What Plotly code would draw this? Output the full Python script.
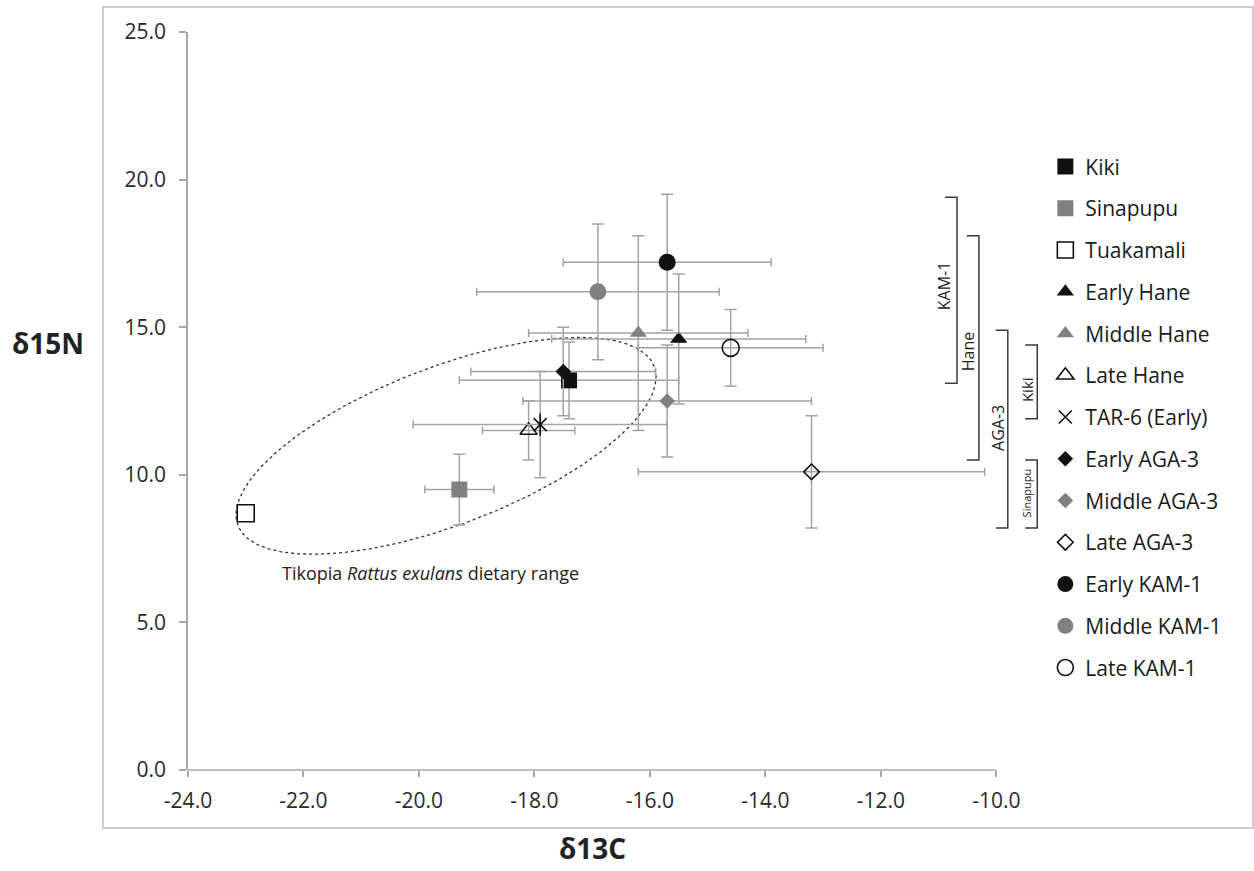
import numpy as np
import plotly.graph_objects as go

# ---------------- data ----------------
names = ["Kiki", "Sinapupu", "Tuakamali", "Early Hane", "Middle Hane", "Late Hane",
         "TAR-6 (Early)", "Early AGA-3", "Middle AGA-3", "Late AGA-3",
         "Early KAM-1", "Middle KAM-1", "Late KAM-1"]
d13c = [-17.4, -19.3, -23.0, -15.5, -16.2, -18.1, -17.9, -17.5, -15.7, -13.2, -15.7, -16.9, -14.6]
d15n = [13.2, 9.5, 8.7, 14.6, 14.8, 11.5, 11.7, 13.5, 12.5, 10.1, 17.2, 16.2, 14.3]
err_c = [1.9, 0.6, 0.0, 2.2, 1.9, 0.8, 2.2, 1.6, 2.5, 3.0, 1.8, 2.1, 1.6]
err_n = [1.3, 1.2, 0.0, 2.2, 3.3, 1.0, 1.8, 1.5, 1.9, 1.9, 2.3, 2.3, 1.3]

x_ticks = [-24, -22, -20, -18, -16, -14, -12, -10]
x_tick_labels = ["-24.0", "-22.0", "-20.0", "-18.0", "-16.0", "-14.0", "-12.0", "-10.0"]
y_ticks = [0, 5, 10, 15, 20, 25]
y_tick_labels = ["0.0", "5.0", "10.0", "15.0", "20.0", "25.0"]

# range brackets (site groups) : label, x of bracket, low, high
bracket_labels = ["KAM-1", "Hane", "AGA-3", "Kiki", "Sinapupu"]
bracket_x = [-10.68, -10.30, -9.80, -9.29, -9.29]
bracket_lo = [13.1, 10.5, 8.2, 11.9, 8.2]
bracket_hi = [19.4, 18.1, 14.9, 14.4, 10.5]
bracket_label_x = [-10.90, -10.50, -9.98, -9.47, -9.47]
bracket_label_y = [16.4, 14.2, 11.6, 12.9, 9.4]
bracket_label_size = [16, 16, 16, 15, 11]

# Tikopia dietary range ellipse (center and conjugate half-axes, data units)
ell_center = (-19.53, 10.98)
ell_u = (3.605, 2.692)
ell_v = (-0.4875, 2.497)

# ---------------- styles ----------------
BLACK = "#111111"
GRAY = "#808080"
ERR = "#a3a3a3"
AXIS = "#a6a6a6"
FONT = "Open Sans"

styles = {
    "Kiki": ("square", BLACK, 16),
    "Sinapupu": ("square", GRAY, 16),
    "Tuakamali": ("square-open", BLACK, 17),
    "Early Hane": ("triangle-up", BLACK, 15),
    "Middle Hane": ("triangle-up", GRAY, 15),
    "Late Hane": ("triangle-up-open", BLACK, 15),
    "TAR-6 (Early)": ("x-thin-open", BLACK, 13),
    "Early AGA-3": ("diamond", BLACK, 12),
    "Middle AGA-3": ("diamond", GRAY, 12),
    "Late AGA-3": ("diamond-open", BLACK, 12),
    "Early KAM-1": ("circle", BLACK, 17),
    "Middle KAM-1": ("circle", GRAY, 17),
    "Late KAM-1": ("circle-open", BLACK, 17),
}

fig = go.Figure()

# ellipse
t = np.linspace(0, 2 * np.pi, 400)
ex = ell_center[0] + ell_u[0] * np.cos(t) + ell_v[0] * np.sin(t)
ey = ell_center[1] + ell_u[1] * np.cos(t) + ell_v[1] * np.sin(t)
fig.add_trace(go.Scatter(x=ex, y=ey, mode="lines", showlegend=False, hoverinfo="skip",
                         line=dict(color="#333333", width=1.3, dash="dot")))

for i, nm in enumerate(names):
    sym, col, size = styles[nm]
    has_err = err_c[i] > 0 or err_n[i] > 0
    open_sym = sym.endswith("-open")
    fig.add_trace(go.Scatter(
        x=[d13c[i]], y=[d15n[i]], mode="markers", name=nm,
        legendgroup=nm,
        marker=dict(symbol=sym, size=size, color=col,
                    line=dict(color=col, width=1.6 if open_sym else 0)),
        error_x=dict(type="data", array=[err_c[i]], color=ERR, thickness=1.5, width=4, visible=has_err),
        error_y=dict(type="data", array=[err_n[i]], color=ERR, thickness=1.5, width=6, visible=has_err),
    ))
    if nm == "TAR-6 (Early)":
        fig.add_trace(go.Scatter(
            x=[d13c[i]], y=[d15n[i]], mode="markers", showlegend=False, legendgroup=nm,
            marker=dict(symbol="line-ns-open", size=16, color=col, line=dict(color=col, width=1.6)),
        ))

# frame & x axis line & brackets
shapes = []
shapes.append(dict(type="rect", xref="paper", yref="paper", x0=-0.0982, x1=1.2298, y0=-0.0786, y1=1.034,
                   line=dict(color="#bdbdbd", width=1.5), fillcolor="rgba(0,0,0,0)", layer="below"))
shapes.append(dict(type="line", xref="x", yref="paper", x0=x_ticks[0], x1=x_ticks[-1], y0=0, y1=0,
                   line=dict(color=AXIS, width=1.5)))
arm = 0.21
for bx, lo, hi in zip(bracket_x, bracket_lo, bracket_hi):
    shapes.append(dict(type="path", xref="x", yref="y",
                       path=f"M {bx - arm},{hi} L {bx},{hi} L {bx},{lo} L {bx - arm},{lo}",
                       line=dict(color="#3a3a3a", width=1.5)))

annotations = []
for lab, lx, ly, ls in zip(bracket_labels, bracket_label_x, bracket_label_y, bracket_label_size):
    annotations.append(dict(x=lx, y=ly, xref="x", yref="y", text=lab, showarrow=False,
                            xanchor="center", yanchor="middle",
                            textangle=-90, font=dict(family=FONT, size=ls, color="#222222")))
annotations.append(dict(x=-22.41, y=6.67, xref="x", yref="y", xanchor="left", yanchor="middle",
                        text="Tikopia <i>Rattus exulans</i> dietary range", showarrow=False,
                        font=dict(family=FONT, size=18, color="#222222")))
annotations.append(dict(x=-0.1617, y=14.45, xref="paper", yref="y", text="<b>δ15N</b>", showarrow=False,
                        xanchor="center", yanchor="middle",
                        font=dict(family=FONT, size=28, color="#222222")))
annotations.append(dict(x=-17.0, y=-0.1057, xref="x", yref="paper", text="<b>δ13C</b>", showarrow=False,
                        xanchor="center", yanchor="middle",
                        font=dict(family=FONT, size=28, color="#222222")))

fig.update_layout(
    width=1254, height=871,
    margin=dict(l=188, r=200, t=32, b=101),
    paper_bgcolor="white", plot_bgcolor="white",
    font=dict(family=FONT, color="#222222"),
    shapes=shapes, annotations=annotations,
    showlegend=True,
    legend=dict(x=0.99, y=0.845, xanchor="left", yanchor="top", tracegroupgap=11.45,
                font=dict(family=FONT, size=21, color="#1a1a1a"), bgcolor="rgba(0,0,0,0)"),
    xaxis=dict(range=[-24, -9.0], showline=False, showgrid=False, zeroline=False,
               tickmode="array", tickvals=x_ticks, ticktext=x_tick_labels,
               ticks="outside", ticklen=6, tickcolor=AXIS, tickwidth=1.5, ticklabelstandoff=6,
               tickfont=dict(family=FONT, size=21, color="#2a2a2a")),
    yaxis=dict(range=[0, 25], showline=True, linecolor=AXIS, linewidth=1.5, showgrid=False, zeroline=False,
               tickmode="array", tickvals=y_ticks, ticktext=y_tick_labels,
               ticks="outside", ticklen=7, tickcolor=AXIS, tickwidth=1.5, ticklabelstandoff=9,
               tickfont=dict(family=FONT, size=21, color="#2a2a2a")),
)

fig.write_html("out.html")
